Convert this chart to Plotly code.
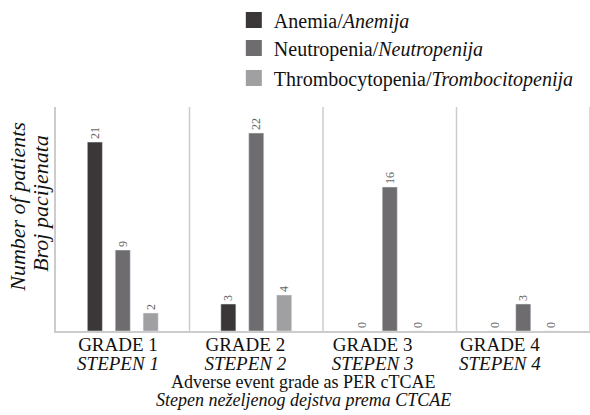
import plotly.graph_objects as go

grades = ["GRADE 1", "GRADE 2", "GRADE 3", "GRADE 4"]
stepen = ["STEPEN 1", "STEPEN 2", "STEPEN 3", "STEPEN 4"]
series_names = ["Anemia/<i>Anemija</i>", "Neutropenia/<i>Neutropenija</i>",
                "Thrombocytopenia/<i>Trombocitopenija</i>"]
anemia = [21, 3, 0, 0]
neutropenia = [9, 22, 16, 3]
thrombocytopenia = [2, 4, 0, 0]
colors = ["#3b3637", "#6e6c6e", "#a09fa1"]
x_title_en = "Adverse event grade as PER cTCAE"
x_title_sr = "<i>Stepen neželjenog dejstva prema CTCAE</i>"
y_title_en = "<i>Number of patients</i>"
y_title_sr = "<i>Broj pacijenata</i>"

SERIF = "Liberation Serif, Times New Roman, serif"
INK = "#111111"

fig = go.Figure()
for name, vals, col in zip(series_names, [anemia, neutropenia, thrombocytopenia], colors):
    fig.add_trace(go.Bar(
        x=grades, y=vals, name=name, marker_color=col, showlegend=False,
        text=[str(v) for v in vals], textposition="outside", textangle=-90,
        textfont=dict(family=SERIF, size=12, color="#666666"),
        cliponaxis=False, constraintext="none",
    ))
# legend entries with larger square swatches, one legend per row
legend_ids = ["legend", "legend2", "legend3"]
for name, col, lg in zip(series_names, colors, legend_ids):
    fig.add_trace(go.Scatter(
        x=[None], y=[None], mode="markers", name=name, legend=lg,
        marker=dict(symbol="square", size=18, color=col),
    ))

# category separators
for i in range(len(grades)):
    fig.add_shape(type="line", xref="x", yref="paper", x0=i + 0.5, x1=i + 0.5,
                  y0=0, y1=1, line=dict(color="#cccccc", width=1.5))

fig.add_annotation(text=x_title_en, xref="paper", yref="paper", x=0.463, y=-0.228,
                   xanchor="center", yanchor="middle", showarrow=False,
                   font=dict(family=SERIF, size=18, color=INK))
fig.add_annotation(text=x_title_sr, xref="paper", yref="paper", x=0.463, y=-0.31,
                   xanchor="center", yanchor="middle", showarrow=False,
                   font=dict(family=SERIF, size=18, color=INK))
fig.add_annotation(text=y_title_en, xref="paper", yref="paper", x=-0.071, y=0.555,
                   xanchor="center", yanchor="middle", showarrow=False, textangle=-90,
                   font=dict(family=SERIF, size=22, color=INK))
fig.add_annotation(text=y_title_sr, xref="paper", yref="paper", x=-0.029, y=0.57,
                   xanchor="center", yanchor="middle", showarrow=False, textangle=-90,
                   font=dict(family=SERIF, size=22, color=INK))

legend_style = dict(x=0.333, xanchor="left", yanchor="middle",
                    font=dict(family=SERIF, size=20, color=INK), bgcolor="rgba(0,0,0,0)")
label_range = [-0.487, 3.708]
fig.update_layout(
    width=590, height=415,
    margin=dict(l=56, r=0, t=107, b=84),
    paper_bgcolor="white", plot_bgcolor="white",
    barmode="group", bargap=0.373, bargroupgap=0.46,
    font=dict(family=SERIF, size=17, color=INK),
    showlegend=True,
    legend=dict(y=1.388, **legend_style),
    legend2=dict(y=1.263, **legend_style),
    legend3=dict(y=1.129, **legend_style),
    xaxis=dict(showline=True, linecolor="#cccccc", linewidth=1.5, automargin=False,
               ticks="", showticklabels=False, range=[-0.5, 3.5]),
    xaxis2=dict(overlaying="x", side="bottom", anchor="y", automargin=False,
                range=label_range, type="linear", tickvals=[0, 1, 2, 3], ticktext=grades,
                showgrid=False, zeroline=False, showline=False, ticks="",
                ticklabelstandoff=0,
                tickfont=dict(family=SERIF, size=19, color=INK)),
    xaxis3=dict(overlaying="x", side="bottom", anchor="y", automargin=False,
                range=label_range, type="linear", tickvals=[0, 1, 2, 3],
                ticktext=["<i>%s</i>" % s for s in stepen],
                showgrid=False, zeroline=False, showline=False, ticks="",
                ticklabelstandoff=19,
                tickfont=dict(family=SERIF, size=19, color=INK)),
    yaxis=dict(range=[0, 24.9], showticklabels=False, showgrid=False, zeroline=False,
               automargin=False,
               showline=True, linecolor="#cccccc", linewidth=1.5, ticks=""),
)
# invisible anchors so the label axes are drawn
fig.add_trace(go.Scatter(x=[None], y=[None], xaxis="x2", showlegend=False, hoverinfo="skip"))
fig.add_trace(go.Scatter(x=[None], y=[None], xaxis="x3", showlegend=False, hoverinfo="skip"))

fig.write_html("out.html", config={"displayModeBar": False},
               post_script="document.body.style.margin='0';")
